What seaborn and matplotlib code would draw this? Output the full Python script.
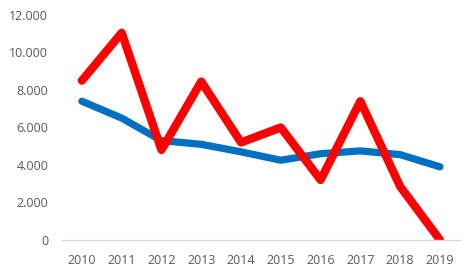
import matplotlib
matplotlib.use("Agg")
import matplotlib.pyplot as plt
from matplotlib.ticker import FuncFormatter
import seaborn as sns
import pandas as pd

years = [2010, 2011, 2012, 2013, 2014, 2015, 2016, 2017, 2018, 2019]
blue_values = [7400, 6500, 5300, 5100, 4700, 4250, 4600, 4750, 4550, 3900]
red_values = [8500, 11050, 4800, 8450, 5200, 6000, 3200, 7400, 2850, 0]
y_ticks = [0, 2000, 4000, 6000, 8000, 10000, 12000]

df = pd.DataFrame({"year": years, "blue": blue_values, "red": red_values})

sns.set_theme(style="white")
plt.rcParams['font.family'] = ['Open Sans', 'DejaVu Sans']

fig = plt.figure(figsize=(4.75, 2.78), dpi=100)
ax = fig.add_axes([0.1305, 0.137, 0.8375, 0.809])

sns.lineplot(data=df, x="year", y="blue", ax=ax, color="#0070C0", linewidth=5.2,
             solid_capstyle="round", solid_joinstyle="round")
sns.lineplot(data=df, x="year", y="red", ax=ax, color="#FF0000", linewidth=6.0,
             solid_capstyle="round", solid_joinstyle="round")

ax.set_xlim(2009.5, 2019.5)
ax.set_ylim(0, 12000)
ax.set_xticks(years)
ax.set_yticks(y_ticks)
ax.yaxis.set_major_formatter(FuncFormatter(lambda v, p: f"{int(v):,}".replace(",", ".")))
ax.set_xlabel("")
ax.set_ylabel("")
for s in ["top", "right", "left"]:
    ax.spines[s].set_visible(False)
ax.spines["bottom"].set_color("#D9D9D9")
ax.spines["bottom"].set_linewidth(1.0)
ax.tick_params(axis="both", length=0, labelsize=9, colors="#595959")
ax.tick_params(axis="x", pad=10)
ax.tick_params(axis="y", pad=10)
ax.grid(False)

fig.savefig("out.png", dpi=100)
